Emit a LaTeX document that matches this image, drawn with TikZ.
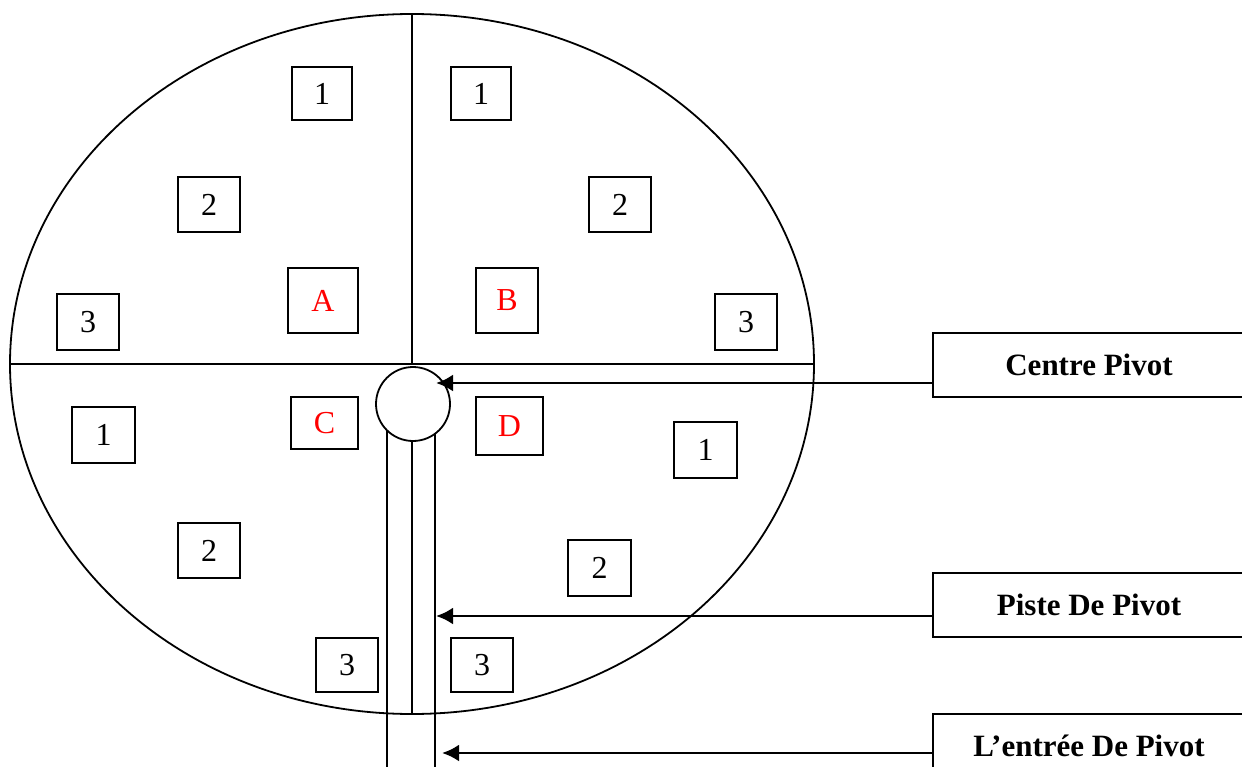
\documentclass[tikz,border=0pt]{standalone}
\usepackage{fontspec}
\setmainfont{Liberation Serif}
\usetikzlibrary{arrows.meta}
\begin{document}
\begin{tikzpicture}[x=1pt,y=-1pt,
  ln/.style={line width=1.8pt},
  nbox/.style={draw,line width=1.8pt,minimum width=62pt,minimum height=55pt,inner sep=0pt,
    font=\fontsize{32}{38}\selectfont},
  lbox/.style={nbox,text=red},
  tbox/.style={draw,line width=1.8pt,minimum width=312pt,minimum height=64pt,inner sep=0pt,
    font=\fontsize{31}{36}\selectfont\bfseries},
  arr/.style={line width=2.8pt,-{Latex[length=17pt,width=17pt]}}]
\useasboundingbox (0,0) rectangle (1242,767);
\clip (0,0) rectangle (1242,767);
% field
\draw[ln] (412,364) ellipse [x radius=402, y radius=350];
\draw[ln] (10,364) -- (814,364);
\draw[ln] (412,14) -- (412,364);
% pivot track lines
\draw[ln] (387,404) -- (387,767);
\draw[ln] (435,404) -- (435,767);
\draw[ln] (412,404) -- (412,714);
\node[circle,draw,line width=1.8pt,fill=white,minimum size=74pt,inner sep=0pt] (pc) at (413,404) {};
% quadrant letters
\node[lbox,minimum width=70pt,minimum height=65pt] (A) at (323,300.5) {A};
\node[lbox,minimum width=62pt,minimum height=65pt] (B) at (507,300.5) {B};
\node[lbox,minimum width=67pt,minimum height=52pt] (C) at (324.5,423) {C};
\node[lbox,minimum width=67pt,minimum height=58pt] (D) at (509.5,426) {D};
% numbered boxes
\node[nbox,minimum width=60pt,minimum height=53pt] (a1) at (322,93.5) {1};
\node[nbox,minimum width=60pt,minimum height=53pt] (b1) at (481,93.5) {1};
\node[nbox] (a2) at (209,204.5) {2};
\node[nbox] (b2) at (620,204.5) {2};
\node[nbox,minimum height=56pt] (a3) at (88,322) {3};
\node[nbox,minimum height=56pt] (b3) at (746,322) {3};
\node[nbox,minimum width=63pt,minimum height=56pt] (c1) at (103.5,435) {1};
\node[nbox,minimum width=63pt,minimum height=56pt] (d1) at (705.5,450) {1};
\node[nbox] (c2) at (209,550.5) {2};
\node[nbox,minimum width=63pt,minimum height=56pt] (d2) at (599.5,568) {2};
\node[nbox,minimum height=54pt] (c3) at (347,665) {3};
\node[nbox,minimum height=54pt] (d3) at (482,665) {3};
% label boxes
\node[tbox] (cp) at (1089,365) {Centre Pivot};
\node[tbox] (pp) at (1089,605) {Piste De Pivot};
\node[tbox] (ep) at (1089,746) {L’entrée De Pivot};
% arrow targets
\coordinate (t1) at (436,383);
\coordinate (t2) at (436,616);
\coordinate (t3) at (442,753);
\draw[arr] (cp.west |- t1) -- (t1);
\draw[arr] (pp.west |- t2) -- (t2);
\draw[arr] (ep.west |- t3) -- (t3);
\end{tikzpicture}
\end{document}
